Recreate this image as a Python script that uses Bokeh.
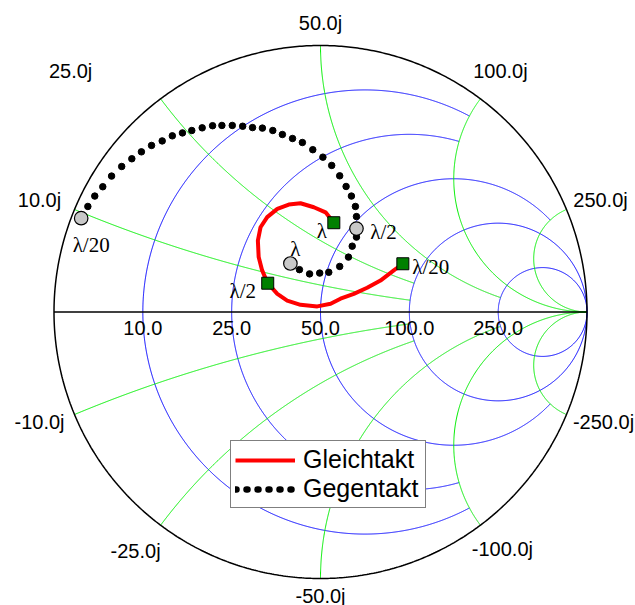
import numpy as np
from bokeh.plotting import figure
from bokeh.models import Range1d, Legend, LegendItem, ColumnDataSource
from bokeh.core.properties import value
from bokeh.embed import file_html
from bokeh.resources import INLINE

# ---- data -----------------------------------------------------------------
Z0 = 50.0
resistance_ticks = [10.0, 25.0, 50.0, 100.0, 250.0]
reactance_ticks = [10.0, 25.0, 50.0, 100.0, 250.0]

# reflection coefficient (real, imag) of the common-mode impedance, lambda/20 -> lambda
gleich_re = [0.309, 0.275, 0.225, 0.175, 0.125, 0.075, 0.038, -0.012, -0.075, -0.125,
             -0.162, -0.198, -0.219, -0.232, -0.235, -0.225, -0.200, -0.162, -0.119,
             -0.075, -0.025, 0.019, 0.050]
gleich_im = [0.181, 0.156, 0.118, 0.091, 0.068, 0.050, 0.031, 0.021, 0.027, 0.043,
             0.068, 0.108, 0.156, 0.206, 0.268, 0.318, 0.356, 0.387, 0.403,
             0.408, 0.393, 0.374, 0.335]

# reflection coefficient (real, imag) of the differential-mode impedance, lambda/20 -> lambda
gegen_re = [-0.898, -0.873, -0.847, -0.817, -0.784, -0.746, -0.708, -0.672, -0.634, -0.594,
            -0.556, -0.518, -0.483, -0.444, -0.405, -0.370, -0.331, -0.292, -0.255, -0.218,
            -0.179, -0.143, -0.105, -0.068, -0.029, 0.009, 0.042, 0.072, 0.096, 0.116,
            0.131, 0.135, 0.135, 0.135, 0.119, 0.105, 0.072, 0.031, -0.003, -0.041,
            -0.079, -0.113]
gegen_im = [0.352, 0.396, 0.435, 0.470, 0.510, 0.546, 0.575, 0.601, 0.625, 0.642,
            0.661, 0.672, 0.681, 0.691, 0.699, 0.700, 0.700, 0.697, 0.692, 0.690,
            0.681, 0.666, 0.651, 0.636, 0.609, 0.581, 0.550, 0.511, 0.471, 0.435,
            0.396, 0.358, 0.313, 0.281, 0.247, 0.206, 0.171, 0.149, 0.146, 0.143,
            0.159, 0.182]

marker_labels = ["\u03bb/20", "\u03bb/2", "\u03bb"]
gleich_marker_idx = [0, 11, 22]
gegen_marker_idx = [0, 32, 41]

# grid lines stop where they meet these lines of the other family (None = run to the end)
resistance_stop = {10.0: 100.0, 25.0: 100.0, 50.0: 250.0, 100.0: None, 250.0: None}
reactance_stop = {10.0: 100.0, 25.0: 100.0, 50.0: 250.0, 100.0: None, 250.0: None}

# ---- layout ---------------------------------------------------------------
W, H = 635, 605
CX, CY, SCALE = 320.0, 311.5, 266.5   # chart centre and unit radius in pixels

p = figure(width=W, height=H, output_backend="svg", toolbar_location=None,
           x_range=Range1d(-CX / SCALE, (W - CX) / SCALE),
           y_range=Range1d(-(H - CY) / SCALE, CY / SCALE),
           min_border=0)
p.axis.visible = False
p.grid.visible = False
p.outline_line_color = None
p.background_fill_color = "white"
p.border_fill_color = "white"

sans = value("Liberation Sans")
serif = value("Liberation Serif")


def gamma(z):
    return (z - 1) / (z + 1)


# constant-resistance circles
for r_ohm in resistance_ticks:
    r = r_ohm / Z0
    stop = resistance_stop[r_ohm]
    if stop is None:
        th = np.linspace(-np.pi / 2, np.pi / 2, 2001)[1:-1]
        xs = np.tan(th)
    else:
        xs = np.linspace(-stop / Z0, stop / Z0, 2001)
    g = gamma(r + 1j * xs)
    if stop is None:
        g = np.concatenate([[1.0 + 0j], g, [1.0 + 0j]])
    p.line(g.real, g.imag, line_color="#0000ff", line_width=1)

# constant-reactance arcs
for x_ohm in reactance_ticks:
    stop = reactance_stop[x_ohm]
    if stop is None:
        rs = np.concatenate([[0.0], np.logspace(-3, 4, 1200)])
    else:
        rs = np.linspace(0, stop / Z0, 1200)
    for sgn in (1, -1):
        g = gamma(rs + 1j * sgn * x_ohm / Z0)
        p.line(g.real, g.imag, line_color="#00ee00", line_width=1)

# outer circle and real axis
t = np.linspace(0, 2 * np.pi, 721)
p.line(np.cos(t), np.sin(t), line_color="black", line_width=1.5)
p.line([-1, 1], [0, 0], line_color="black", line_width=1.5)

# resistance labels on the real axis
r_pos = [gamma(v / Z0) for v in resistance_ticks]
p.text(x=r_pos, y=[0.0] * len(r_pos), text=[f"{v:.1f}" for v in resistance_ticks],
       text_font=sans, text_font_size="20px", text_align="center",
       text_baseline="middle", y_offset=16, text_color="black")

# reactance labels around the rim
rim_offsets = {10.0: (-35, -10), 25.0: (-90, -28), 50.0: (0, -23), 100.0: (20, -28),
               250.0: (34, -10), -10.0: (-35, 7), -25.0: (-25, 26), -50.0: (0, 17),
               -100.0: (22, 24), -250.0: (37, 7)}
lx, ly, lt, ox, oy = [], [], [], [], []
for x_ohm in reactance_ticks:
    for sgn in (1, -1):
        g = gamma(1j * sgn * x_ohm / Z0)
        lx.append(g.real)
        ly.append(g.imag)
        lt.append(f"{sgn * x_ohm:.1f}j")
        dx, dy = rim_offsets[sgn * x_ohm]
        ox.append(dx)
        oy.append(dy)
rim_src = ColumnDataSource(dict(x=lx, y=ly, text=lt, xo=ox, yo=oy))
p.text(x="x", y="y", text="text", x_offset="xo", y_offset="yo", source=rim_src,
       text_font=sans, text_font_size="20px", text_align="center",
       text_baseline="middle", text_color="black")

# ---- data series ----------------------------------------------------------
gleich_line = p.line(gleich_re, gleich_im, line_color="#ff0000", line_width=4,
                     line_join="round")
p.scatter(gegen_re, gegen_im, size=6.5, fill_color="black", line_color="black")

# markers at lambda/20, lambda/2 and lambda
p.scatter([gleich_re[i] for i in gleich_marker_idx], [gleich_im[i] for i in gleich_marker_idx],
          marker="square", size=12, fill_color="#008000", line_color="black", line_width=1)
p.scatter([gegen_re[i] for i in gegen_marker_idx], [gegen_im[i] for i in gegen_marker_idx],
          marker="circle", size=13.5, fill_color="#c8c8c8", line_color="black", line_width=1.2)

gleich_lab = ColumnDataSource(dict(
    x=[gleich_re[i] for i in gleich_marker_idx], y=[gleich_im[i] for i in gleich_marker_idx],
    text=marker_labels, xo=[28, -25, -12], yo=[3, 8, 8]))
gegen_lab = ColumnDataSource(dict(
    x=[gegen_re[i] for i in gegen_marker_idx], y=[gegen_im[i] for i in gegen_marker_idx],
    text=marker_labels, xo=[10, 27, 5], yo=[27, 3, -14]))
for src in (gleich_lab, gegen_lab):
    p.text(x="x", y="y", text="text", x_offset="xo", y_offset="yo", source=src,
           text_font=serif, text_font_size="21px", text_align="center",
           text_baseline="middle", text_color="black")

# legend sample for the dotted series (no data of its own)
gegen_key = p.line(x=[np.nan], y=[np.nan], line_color="black", line_width=6.5,
                   line_dash="1 10", line_cap="round")

legend = Legend(items=[LegendItem(label="Gleichtakt", renderers=[gleich_line]),
                       LegendItem(label="Gegentakt", renderers=[gegen_key])],
                location=(230, 97), orientation="vertical",
                label_text_font="Liberation Sans", label_text_font_size="25px",
                label_text_color="black", glyph_width=60, glyph_height=20,
                label_standoff=8, label_width=118, padding=4, spacing=0, margin=0,
                border_line_color="black", border_line_width=1,
                background_fill_color="white", background_fill_alpha=1.0)
p.add_layout(legend)

open("out.html", "w").write(file_html(p, INLINE))
